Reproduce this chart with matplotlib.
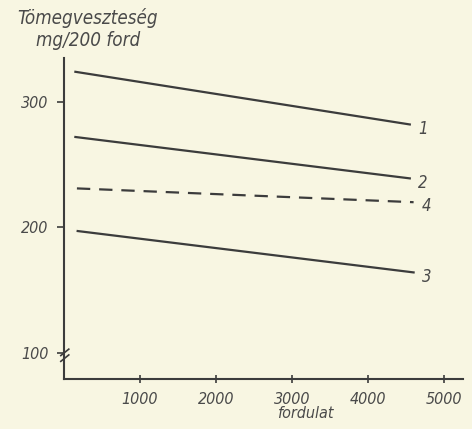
import matplotlib
matplotlib.use("Agg")
import matplotlib.pyplot as plt

# Data
series_names = ["1", "2", "4", "3"]
x_start = [150, 150, 170, 180]
x_end = [4550, 4550, 4600, 4600]
y_start = [324, 272, 231, 197]
y_end = [282, 239, 220, 164]
styles = ["-", "-", "--", "-"]
x_ticks = [1000, 2000, 3000, 4000, 5000]
x_ticklabels = ["1000", "2000", "3000", "4000", "5000"]
y_ticks = [100, 200, 300]
y_ticklabels = ["100", "200", "300"]

BG = "#f8f6e2"
INK = "#3c3c3c"
TXT = "#4a4a4a"
font = dict(family="DejaVu Sans", style="italic", stretch="condensed", color=TXT)

fig = plt.figure(figsize=(4.72, 4.29), dpi=100, facecolor=BG)
ax = fig.add_axes([64/472, 1-379/429, (463-64)/472, (379-58)/429])
ax.set_facecolor(BG)

for name, xs, xe, ys, ye, ls in zip(series_names, x_start, x_end, y_start, y_end, styles):
    if ls == "--":
        ax.plot([xs, xe], [ys, ye], color=INK, lw=1.6, dashes=(6, 4))
    else:
        ax.plot([xs, xe], [ys, ye], color=INK, lw=1.6)
    ax.annotate(name, xy=(xe, ye), xytext=(6, -3), textcoords="offset points",
                fontsize=12, va="center", ha="left", **font)

ax.set_xlim(0, 5250)
ax.set_ylim(79, 335)
for s in ["top", "right"]:
    ax.spines[s].set_visible(False)
for s in ["left", "bottom"]:
    ax.spines[s].set_color(INK)
    ax.spines[s].set_linewidth(1.5)

ax.set_xticks(x_ticks)
ax.set_xticklabels(x_ticklabels, fontsize=11.5, **font)
ax.set_yticks(y_ticks)
ax.set_yticklabels(y_ticklabels, fontsize=11.5, **font)
ax.tick_params(axis="x", direction="inout", length=6, width=1.2, color=INK, pad=6)
ax.tick_params(axis="y", direction="out", length=5, width=1.2, color=INK, pad=6)
for lab in ax.get_xticklabels():
    lab.set_x(lab.get_position()[0])
ax.set_xlabel("fordulat", fontsize=11.5, **font)
ax.xaxis.set_label_coords((305-64)/(463-64), -0.085)

# axis break marks on y-axis
bx = 0.0
for dy in (0.0, 0.018):
    ax.plot([bx-0.008, bx+0.012], [0.055+dy, 0.075+dy], transform=ax.transAxes,
            color=INK, lw=1.2, clip_on=False)

fig.text(88/472, 1-18/429, "Tömegveszteség", fontsize=13.5, ha="center", va="center", **font)
fig.text(88/472, 1-41/429, "mg/200 ford", fontsize=13.5, ha="center", va="center", **font)

fig.savefig("out.png", dpi=100, facecolor=BG)
